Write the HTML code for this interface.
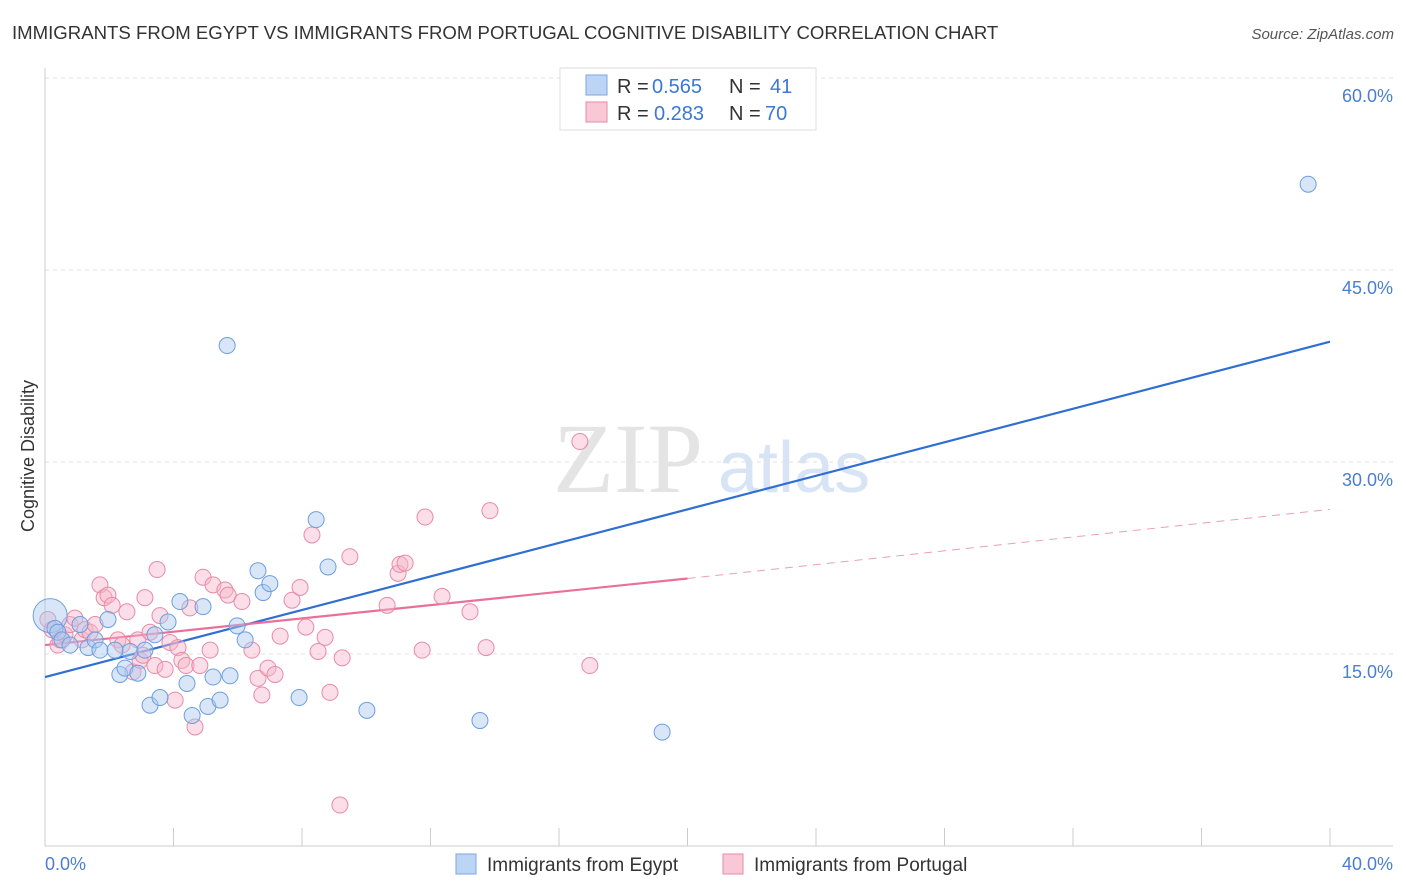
<!DOCTYPE html>
<html><head><meta charset="utf-8">
<style>
body{margin:0;background:#fff;font-family:"Liberation Sans",sans-serif;}
svg{display:block}
</style></head>
<body>
<svg id="chart" width="1406" height="892" xmlns="http://www.w3.org/2000/svg">
<text x="12" y="39" font-size="18.6" fill="#333">IMMIGRANTS FROM EGYPT VS IMMIGRANTS FROM PORTUGAL COGNITIVE DISABILITY CORRELATION CHART</text>
<text x="1394" y="39" font-size="15" fill="#555" font-style="italic" text-anchor="end">Source: ZipAtlas.com</text>
<text x="553" y="492" font-size="100" fill="#e4e4e4" font-family="Liberation Serif,serif">ZIP</text>
<text x="718" y="492" font-size="72" fill="#d6e4f5">atlas</text>
<text transform="translate(34,456) rotate(-90)" font-size="18" fill="#333" text-anchor="middle">Cognitive Disability</text>
<g id="grid"></g>
<g id="axes"></g>
<g id="lines"></g>
<g id="points"></g>
<g font-size="20">
<rect x="560" y="68" width="256" height="62" fill="#fff" stroke="#ddd"/>
<rect x="586" y="75" width="21" height="20" fill="#bcd5f5" stroke="#7aa6e0"/>
<rect x="586" y="102" width="21" height="20" fill="#f9c8d6" stroke="#e88aa8"/>
<text x="617" y="93" fill="#333">R =</text>
<text x="652" y="93" fill="#3a78d4">0.565</text>
<text x="729" y="93" fill="#333">N =</text>
<text x="770" y="93" fill="#3a78d4">41</text>
<text x="617" y="120" fill="#333">R =</text>
<text x="654" y="120" fill="#3a78d4">0.283</text>
<text x="729" y="120" fill="#333">N =</text>
<text x="765" y="120" fill="#3a78d4">70</text>
</g>
<g>
<rect x="456" y="854" width="20" height="20" fill="#bcd5f5" stroke="#7aa6e0"/>
<text x="487" y="871" font-size="19" fill="#333">Immigrants from Egypt</text>
<rect x="723" y="854" width="20" height="20" fill="#f9c8d6" stroke="#e88aa8"/>
<text x="754" y="871" font-size="19" fill="#333">Immigrants from Portugal</text>
</g>
</svg>
<script>
const yTicks=[15,30,45,60];
const yTickLabels=["15.0%","30.0%","45.0%","60.0%"];
const xTicks=[0,4,8,12,16,20,24,28,32,36,40];
const egyptX=[0.16,0.31,0.40,0.53,0.78,1.09,1.34,1.56,1.71,1.96,2.18,2.33,2.49,2.65,2.89,3.11,3.27,3.42,3.58,3.83,4.20,4.42,4.58,4.92,5.07,5.23,5.45,5.67,5.76,5.98,6.23,6.63,6.79,7.00,7.91,8.44,8.81,10.02,13.54,19.21,39.32];
const egyptY=[18.0,17.0,16.7,16.1,15.7,17.3,15.5,16.1,15.3,17.7,15.3,13.4,13.9,15.2,13.5,15.3,11.0,16.5,11.6,17.5,19.1,12.7,10.2,18.7,10.9,13.2,11.4,39.1,13.3,17.2,16.1,21.5,19.8,20.5,11.6,25.5,21.8,10.6,9.8,8.9,51.7];
const portX=[0.09,0.22,0.40,0.47,0.62,0.78,0.93,1.15,1.25,1.40,1.56,1.71,1.84,1.96,2.09,2.27,2.40,2.55,2.74,2.89,2.96,3.05,3.11,3.27,3.42,3.49,3.58,3.74,3.89,4.05,4.14,4.26,4.39,4.51,4.67,4.82,4.92,5.14,5.23,5.60,5.70,6.13,6.44,6.63,6.75,6.94,7.16,7.32,7.69,7.94,8.12,8.31,8.50,8.72,8.87,9.18,9.25,9.49,10.65,10.99,11.05,11.21,11.74,11.83,12.36,13.23,13.73,13.85,16.65,16.96];
const portY=[17.7,16.9,15.7,16.1,16.5,17.3,17.8,16.1,16.9,16.7,17.3,20.4,19.4,19.6,18.8,16.1,15.7,18.3,13.6,16.1,14.5,14.9,19.4,16.7,14.1,21.6,18.0,13.8,15.9,11.4,15.5,14.5,14.1,18.6,9.3,14.1,21.0,15.3,20.4,20.0,19.6,19.1,15.3,13.1,11.8,13.9,13.4,16.4,19.2,20.2,17.1,24.3,15.2,16.3,12.0,3.2,14.7,22.6,18.8,21.3,22.0,22.1,15.3,25.7,19.5,18.3,15.5,26.2,31.6,14.1];
const egyptLine=[0,13.2,40,39.4];
const portLine=[0,15.7,20,20.9,40,26.3];

const NS="http://www.w3.org/2000/svg";
const X0=45,X1=1330,Y0=846,PXY=12.8;
const sx=v=>X0+(X1-X0)*v/40;
const sy=v=>Y0-v*PXY;
function mk(tag,attrs,parent){const e=document.createElementNS(NS,tag);for(const k in attrs)e.setAttribute(k,attrs[k]);parent.appendChild(e);return e;}
const grid=document.getElementById('grid'),axes=document.getElementById('axes'),lines=document.getElementById('lines'),pts=document.getElementById('points');
let g=mk('line',{x1:X0,x2:1393,y1:78,y2:78,stroke:'#e2e2e2','stroke-dasharray':'4,4'},grid);


yTicks.forEach((t,i)=>{
 const l=mk('line',{x1:X0,x2:1393,y1:sy(t),y2:sy(t),stroke:'#e2e2e2','stroke-dasharray':'4,4'},grid);
 
 
 const tx=mk('text',{x:1393,y:sy(t)+24,'font-size':18,fill:'#4a7fd0','text-anchor':'end'},axes);
 tx.textContent=yTickLabels[i];
 
 
});
let a=mk('line',{x1:X0,x2:X0,y1:68,y2:Y0,stroke:'#ccc'},axes);


a=mk('line',{x1:X0,x2:1393,y1:Y0,y2:Y0,stroke:'#ccc'},axes);


xTicks.forEach(t=>{
 if(t===0)return;
 const l=mk('line',{x1:sx(t),x2:sx(t),y1:828,y2:Y0,stroke:'#ccc'},axes);
 
 
});
let t0=mk('text',{x:45,y:870,'font-size':18,fill:'#4a7fd0'},axes);t0.textContent='0.0%';


let t1=mk('text',{x:1393,y:870,'font-size':18,fill:'#4a7fd0','text-anchor':'end'},axes);t1.textContent='40.0%';



function dot(x,y,r,fill,stroke,name){
 const c=mk('circle',{cx:sx(x),cy:sy(y),r:r,fill:fill,'fill-opacity':0.45,stroke:stroke,'stroke-width':1},pts);
 
 
}
portX.forEach((x,i)=>dot(x,portY[i],8,'#f6b6c9','#e88aa8','portugal-point'));
egyptX.forEach((x,i)=>dot(x,egyptY[i],i===0?17:8,'#a9c8f0','#6d9ee0','egypt-point'));

let bl=mk('line',{x1:sx(egyptLine[0]),y1:sy(egyptLine[1]),x2:sx(egyptLine[2]),y2:sy(egyptLine[3]),stroke:'#2f6fd4','stroke-width':2.2},lines);


let pl=mk('line',{x1:sx(portLine[0]),y1:sy(portLine[1]),x2:sx(portLine[2]),y2:sy(portLine[3]),stroke:'#e8709a','stroke-width':2.2},lines);


let pd=mk('line',{x1:sx(portLine[2]),y1:sy(portLine[3]),x2:sx(portLine[4]),y2:sy(portLine[5]),stroke:'#e8a0b8','stroke-width':1,'stroke-dasharray':'8,6'},lines);


</script>
</body></html>
